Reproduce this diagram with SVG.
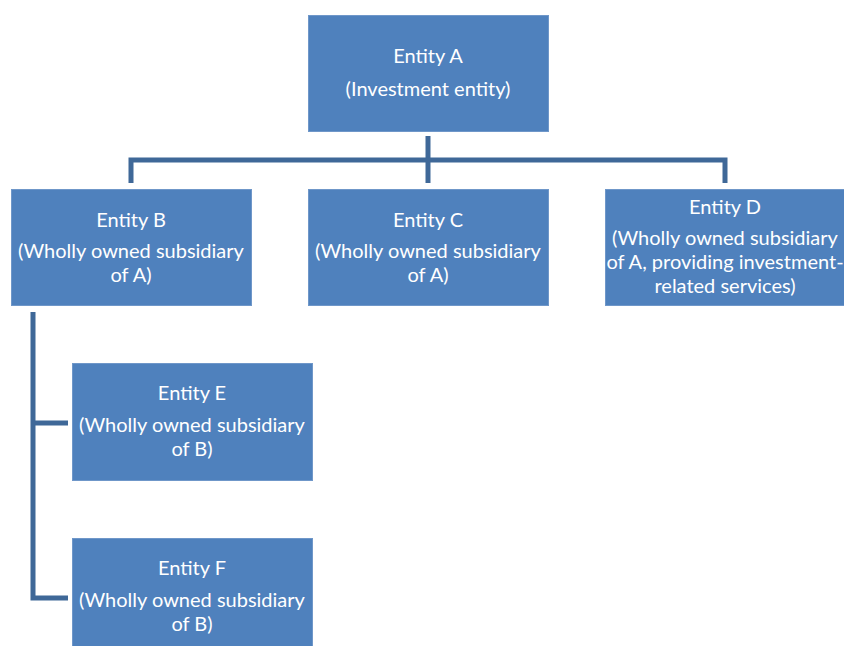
<svg xmlns="http://www.w3.org/2000/svg" width="844" height="646" viewBox="0 0 844 646">
<style>
.box{fill:#4f81bd;stroke:#6f97c9;stroke-width:1}
.t{fill:#ffffff;font-family:Lato,"Open Sans","Liberation Sans",sans-serif;font-size:20px;text-anchor:middle}
.c{fill:none;stroke:#3f6898;stroke-width:5;stroke-linejoin:miter}
</style>
<rect width="844" height="646" fill="#ffffff"/>
<g id="connectors">
<path class="c" d="M428,136 V183"/>
<path class="c" d="M131,183 V160 H725 V183"/>
<path class="c" d="M33,312 V598 H68"/>
<path class="c" d="M33,423 H68"/>
</g>
<g id="entityA">
<rect class="box" x="308.5" y="15.5" width="240" height="116"/>
<text class="t" x="428" y="63">Entity A</text>
<text class="t" x="428" y="96">(Investment entity)</text>
</g>
<g id="entityB">
<rect class="box" x="11.5" y="189.5" width="240" height="116"/>
<text class="t" x="131" y="227">Entity B</text>
<text class="t" x="131" y="258">(Wholly owned subsidiary</text>
<text class="t" x="131" y="282">of A)</text>
</g>
<g id="entityC">
<rect class="box" x="308.5" y="189.5" width="240" height="116"/>
<text class="t" x="428" y="227">Entity C</text>
<text class="t" x="428" y="258">(Wholly owned subsidiary</text>
<text class="t" x="428" y="282">of A)</text>
</g>
<g id="entityD">
<rect class="box" x="605.5" y="189.5" width="240" height="116"/>
<text class="t" x="725" y="214">Entity D</text>
<text class="t" x="725" y="245">(Wholly owned subsidiary</text>
<text class="t" x="725" y="269">of A, providing investment-</text>
<text class="t" x="725" y="293">related services)</text>
</g>
<g id="entityE">
<rect class="box" x="72.5" y="363.5" width="240" height="117"/>
<text class="t" x="192" y="400">Entity E</text>
<text class="t" x="192" y="432">(Wholly owned subsidiary</text>
<text class="t" x="192" y="456">of B)</text>
</g>
<g id="entityF">
<rect class="box" x="72.5" y="538.5" width="240" height="117"/>
<text class="t" x="192" y="575">Entity F</text>
<text class="t" x="192" y="607">(Wholly owned subsidiary</text>
<text class="t" x="192" y="631">of B)</text>
</g>
</svg>
